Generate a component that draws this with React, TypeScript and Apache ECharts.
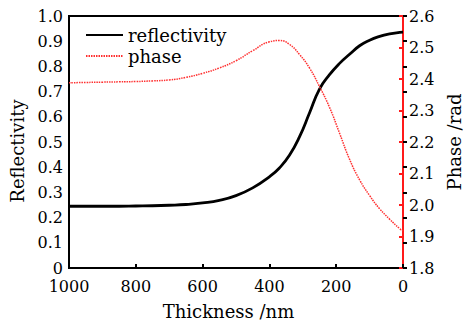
import React, { useEffect, useRef } from "react";
import * as echarts from "echarts";

const thickness = [1000, 950, 900, 850, 800, 750, 700, 650, 600, 550, 500, 450, 400, 370, 340, 310, 280, 250, 220, 190, 160, 130, 100, 70, 40, 10, 0];
const reflectivity = [0.245, 0.245, 0.245, 0.245, 0.246, 0.247, 0.249, 0.252, 0.258, 0.268, 0.287, 0.318, 0.362, 0.397, 0.447, 0.52, 0.615, 0.71, 0.767, 0.812, 0.848, 0.882, 0.904, 0.919, 0.929, 0.935, 0.936];
const phase = [2.388, 2.389, 2.39, 2.391, 2.392, 2.394, 2.397, 2.405, 2.418, 2.435, 2.458, 2.49, 2.518, 2.522, 2.51, 2.478, 2.435, 2.376, 2.31, 2.228, 2.145, 2.08, 2.03, 1.988, 1.955, 1.925, 1.918];
const xTicks = [0, 200, 400, 600, 800, 1000];
const leftTicks = ["0", "0.1", "0.2", "0.3", "0.4", "0.5", "0.6", "0.7", "0.8", "0.9", "1.0"];
const rightTicks = ["1.8", "1.9", "2.0", "2.1", "2.2", "2.3", "2.4", "2.5", "2.6"];

const FONT = "DejaVu Serif";

export default function App() {
  const ref = useRef<HTMLDivElement>(null);
  useEffect(() => {
    const chart = echarts.init(ref.current!, null, { renderer: "svg" });
    const tick = { fontFamily: FONT, fontSize: 16, color: "#000" };
    const big = { fontFamily: FONT, fontSize: 18, color: "#000" };
    chart.setOption({
      animation: false,
      textStyle: { fontFamily: FONT },
      grid: { left: 69, right: 69, top: 16, bottom: 58, show: true, borderColor: "#000", borderWidth: 2 },
      legend: {
        orient: "vertical",
        left: 80,
        top: 21,
        itemWidth: 37,
        itemHeight: 14,
        itemGap: 3,
        itemStyle: { opacity: 0 },
        textStyle: { ...big, lineHeight: 18 },
        data: ["reflectivity", "phase"],
      },
      xAxis: {
        type: "value",
        inverse: true,
        min: 0,
        max: 1000,
        interval: 200,
        name: "Thickness /nm",
        nameLocation: "middle",
        nameGap: 34,
        nameTextStyle: { ...big, padding: [0, 15, 0, 0] },
        axisLine: { lineStyle: { color: "#000", width: 2 } },
        axisTick: { inside: true, length: 4, lineStyle: { color: "#000", width: 2 } },
        axisLabel: { ...tick, margin: 10, formatter: (v: number) => String(xTicks[xTicks.indexOf(v)] ?? v) },
        splitLine: { show: false },
      },
      yAxis: [
        {
          type: "value",
          min: 0,
          max: 1,
          interval: 0.1,
          name: "Reflectivity",
          nameLocation: "middle",
          nameGap: 37,
          nameTextStyle: { ...big, padding: [0, 18, 0, 0] },
          axisLine: { show: true, lineStyle: { color: "#000", width: 2 } },
          axisTick: { show: true, inside: true, length: 4, lineStyle: { color: "#000", width: 2 } },
          axisLabel: { ...tick, margin: 6, formatter: (v: number) => leftTicks[Math.round(v * 10)] },
          splitLine: { show: false },
        },
        {
          type: "value",
          position: "right",
          min: 1.8,
          max: 2.6,
          interval: 0.1,
          name: "Phase /rad",
          nameLocation: "middle",
          nameGap: 41,
          nameRotate: 90,
          nameTextStyle: big,
          axisLine: { show: true, lineStyle: { color: "#ff1a1a", width: 2 } },
          axisTick: { show: true, inside: true, length: 4, lineStyle: { color: "#ff1a1a", width: 2 } },
          axisLabel: { ...tick, margin: 6, formatter: (v: number) => rightTicks[Math.round((v - 1.8) * 10)] },
          splitLine: { show: false },
        },
      ],
      series: [
        {
          name: "reflectivity",
          type: "line",
          smooth: true,
          symbol: "none",
          yAxisIndex: 0,
          lineStyle: { color: "#000", width: 2.8 },
          itemStyle: { color: "#000" },
          data: thickness.map((t, i) => [t, reflectivity[i]]),
        },
        {
          name: "phase",
          type: "line",
          smooth: true,
          symbol: "none",
          yAxisIndex: 1,
          lineStyle: { color: "#ff3030", width: 1.5, type: [1.5, 1] },
          itemStyle: { color: "#ff3030" },
          data: thickness.map((t, i) => [t, phase[i]]),
        },
      ],
    });
    return () => chart.dispose();
  }, []);
  return <div ref={ref} style={{ position: "fixed", left: 0, top: 0, width: 472, height: 326, background: "#fff" }} />;
}
